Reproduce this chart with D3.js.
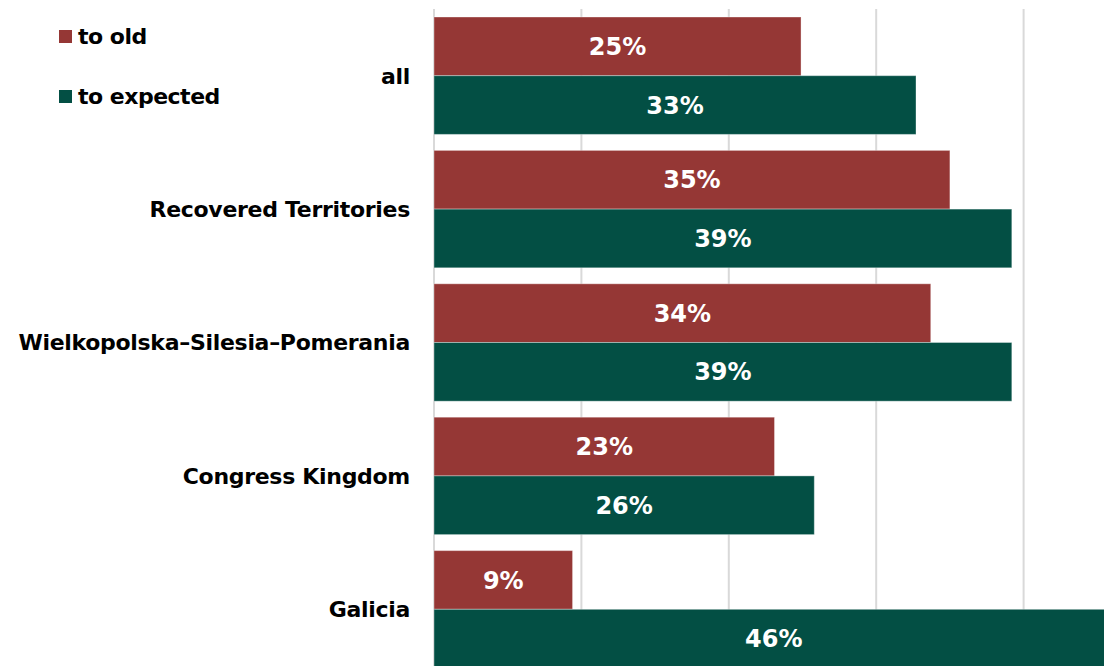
<!DOCTYPE html>
<html>
<head>
<meta charset="utf-8">
<script src="https://cdn.jsdelivr.net/npm/d3@7"></script>
<style>
  html, body { margin: 0; padding: 0; background: #ffffff; overflow: hidden; }
  svg { display: block; }
</style>
</head>
<body>
<svg id="chart" width="1104" height="666"></svg>
<script>
// Regions (top to bottom) and the share of each comparison
const regions = ["all", "Recovered Territories", "Wielkopolska\u2013Silesia\u2013Pomerania", "Congress Kingdom", "Galicia"];
const seriesNames = ["to old", "to expected"];
const toOld = [0.249, 0.350, 0.337, 0.231, 0.094];
const toExpected = [0.327, 0.392, 0.392, 0.258, 0.461];
const gridTicks = [0, 0.1, 0.2, 0.3, 0.4, 0.5];
const seriesColors = ["#953735", "#034f44"];

const rows = regions.map((r, i) => ({ region: r, values: [toOld[i], toExpected[i]] }));

const svg = d3.select("#chart");
const fontFamily = "'DejaVu Sans', Verdana, sans-serif";

const x = d3.scaleLinear().domain([0, 0.5]).range([434, 1171]);
const y = d3.scaleBand().domain(regions).range([9, 676]).paddingInner(0.12).paddingOuter(0.06);
const ySub = d3.scaleBand().domain(seriesNames).range([0, y.bandwidth()]);

// vertical gridlines
svg.append("g")
  .selectAll("line")
  .data(gridTicks)
  .join("line")
  .attr("x1", d => x(d)).attr("x2", d => x(d))
  .attr("y1", 9).attr("y2", 666)
  .attr("stroke", "#d9d9d9")
  .attr("stroke-width", 2);

// bars
const groups = svg.append("g")
  .selectAll("g")
  .data(rows)
  .join("g")
  .attr("transform", d => `translate(0,${y(d.region)})`);

groups.selectAll("rect")
  .data(d => d.values.map((v, k) => ({ v, k })))
  .join("rect")
  .attr("x", x(0))
  .attr("y", d => ySub(seriesNames[d.k]))
  .attr("width", d => x(d.v) - x(0))
  .attr("height", ySub.bandwidth())
  .attr("fill", d => seriesColors[d.k])
  .attr("stroke", "#ffffff")
  .attr("stroke-opacity", 0.35)
  .attr("stroke-width", 1);

// value labels centred in each bar
const fmt = d3.format(".0%");
groups.selectAll("text")
  .data(d => d.values.map((v, k) => ({ v, k })))
  .join("text")
  .attr("x", d => (x(0) + x(d.v)) / 2)
  .attr("y", d => ySub(seriesNames[d.k]) + ySub.bandwidth() / 2)
  .attr("dy", "0.36em")
  .attr("text-anchor", "middle")
  .attr("fill", "#ffffff")
  .attr("font-family", fontFamily)
  .attr("font-weight", "bold")
  .attr("font-size", 24)
  .text(d => fmt(d.v));

// category labels
svg.append("g")
  .selectAll("text")
  .data(regions)
  .join("text")
  .attr("x", 410)
  .attr("y", d => y(d) + y.bandwidth() / 2)
  .attr("dy", "0.36em")
  .attr("text-anchor", "end")
  .attr("fill", "#000000")
  .attr("font-family", fontFamily)
  .attr("font-weight", "bold")
  .attr("font-size", 22)
  .attr("letter-spacing", -0.3)
  .text(d => d);

// legend
const legend = svg.append("g")
  .selectAll("g")
  .data(seriesNames)
  .join("g")
  .attr("transform", (d, i) => `translate(59,${30 + i * 60})`);

legend.append("rect")
  .attr("width", 13).attr("height", 13)
  .attr("fill", (d, i) => seriesColors[i]);

legend.append("text")
  .attr("x", 19)
  .attr("y", 14)
  .attr("fill", "#000000")
  .attr("font-family", fontFamily)
  .attr("font-weight", "bold")
  .attr("font-size", 22)
  .attr("letter-spacing", -0.5)
  .text(d => d);
</script>
</body>
</html>
